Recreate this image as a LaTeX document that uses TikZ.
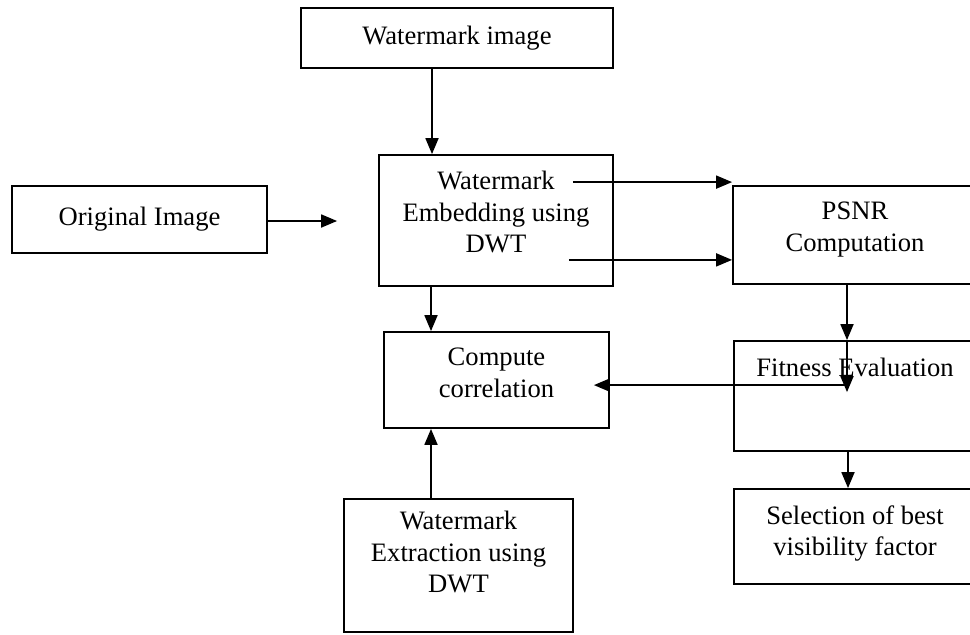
\documentclass[tikz,border=0pt]{standalone}
\usepackage{fontspec}
\setmainfont{Liberation Serif}
\usetikzlibrary{arrows.meta}
\begin{document}
\begin{tikzpicture}[x=1pt,y=-1pt,
  every node/.style={font=\fontsize{26.6pt}{31.5pt}\selectfont},
  box/.style={draw, line width=1.8pt, inner sep=0pt},
  txt/.style={align=center, inner sep=0pt, anchor=north},
  arr/.style={line width=1.8pt, -{Triangle[length=16pt,width=13pt]}}]
\useasboundingbox (0,0) rectangle (970,635);
\fill[white] (0,0) rectangle (970,635);
\clip (0,0) rectangle (970,635);
% boxes
\node[box, minimum width=312pt, minimum height=60pt] (wimg) at (457,38) {Watermark image};
\node[box, minimum width=255pt, minimum height=67pt] (orig) at (139.5,219.5) {Original Image};
\node[box, minimum width=234pt, minimum height=131pt] (embed) at (496,220.5) {};
\node[box, minimum width=244pt, minimum height=98pt] (psnr) at (855,235) {};
\node[box, minimum width=225pt, minimum height=96pt] (corr) at (496.5,380) {};
\node[box, minimum width=242pt, minimum height=110pt] (fit) at (855,396) {};
\node[box, minimum width=242pt, minimum height=95pt] (sel) at (855,536.5) {};
\node[box, minimum width=229pt, minimum height=133pt] (extr) at (458.5,565.5) {};
% texts
\node[txt] (embedt) at ([yshift=-17pt]embed.north) {Watermark\\Embedding using\\DWT};
\node[txt] (psnrt) at ([yshift=-17pt]psnr.north) {PSNR\\Computation};
\node[txt] (corrt) at ([yshift=-17pt]corr.north) {Compute\\correlation};
\node[txt] (fitt) at ([yshift=-18pt]fit.north) {Fitness Evaluation};
\node[txt] (selt) at ([yshift=-17pt]sel.north) {Selection of best\\visibility factor};
\node[txt] (extrt) at ([yshift=-13pt]extr.north) {Watermark\\Extraction using\\DWT};
% connectors
\draw[arr] ([xshift=-25pt]wimg.south) -- ([xshift=-25pt]wimg.south |- embed.north);
\coordinate (o1) at ([yshift=-1.5pt]orig.east);
\draw[arr] (o1) -- ([xshift=-41pt]embed.west |- o1);
\coordinate (e1) at ([shift={(-41,28)}]embed.north east);
\coordinate (e2) at ([shift={(-45,-27)}]embed.south east);
\draw[arr] (e1) -- (e1 -| psnr.west);
\draw[arr] (e2) -- (e2 -| psnr.west);
\draw[arr] ([xshift=-65pt]embed.south) -- ([xshift=-65pt]embed.south |- corr.north);
\draw[arr] ([xshift=-27.5pt]extr.north) -- ([xshift=-27.5pt]extr.north |- corr.south);
\draw[arr] ([xshift=-8pt]psnr.south) -- ([xshift=-8pt]psnr.south |- fit.north);
\coordinate (fa) at ([shift={(-8,52)}]fit.north);
\draw[arr] ([xshift=-8pt]fit.north) -- (fa);
\coordinate (h) at ([shift={(-8,45)}]fit.north);
\draw[arr] (h) -- ([xshift=-16pt]h -| corr.east);
\draw[arr] ([xshift=-7pt]fit.south) -- ([xshift=-7pt]fit.south |- sel.north);
\end{tikzpicture}
\end{document}
